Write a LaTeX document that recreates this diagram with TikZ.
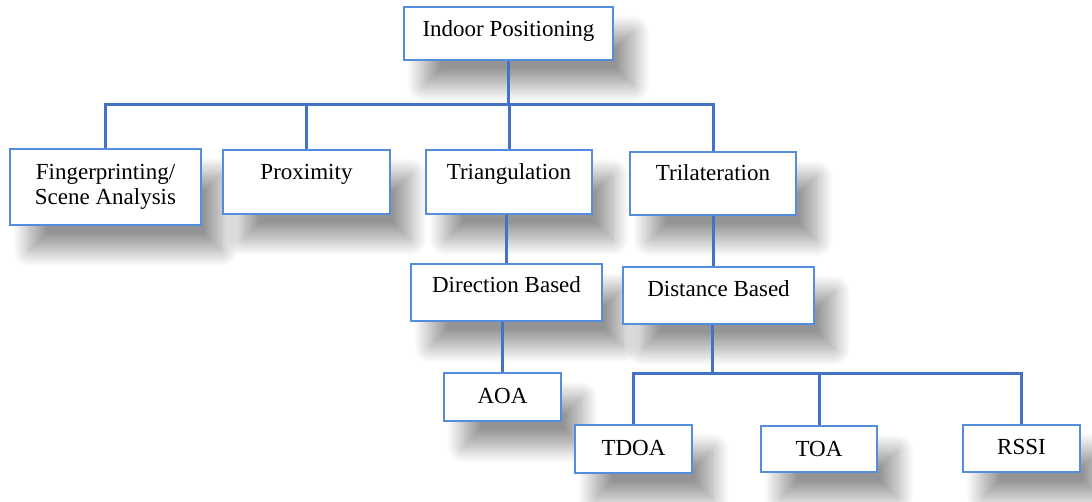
\documentclass[tikz,border=0pt]{standalone}
\usepackage{fontspec}
\setmainfont{Liberation Serif}
\usetikzlibrary{shadows.blur}
\definecolor{connblue}{RGB}{68,114,196}
\definecolor{boxblue}{RGB}{84,141,222}
\begin{document}
\begin{tikzpicture}[x=1pt,y=-1pt,
  box/.style={draw=boxblue, line width=2.2pt, fill=white, inner sep=0pt, rectangle,
    blur shadow={shadow xshift=20pt, shadow yshift=-25pt, shadow blur radius=17pt, shadow opacity=42, shadow blur steps=24}},
  lbl/.style={font=\fontsize{23}{27}\selectfont, inner sep=0pt, anchor=base, text=black},
  conn/.style={draw=connblue, line width=3pt}]
\useasboundingbox (0,0) rectangle (1092,502);
% boxes
\node[box, minimum width=209pt, minimum height=53pt] (ip) at (508.5,33.5) {};
\node[box, minimum width=191pt, minimum height=76pt] (fp) at (105.5,187) {};
\node[box, minimum width=167pt, minimum height=64pt] (px) at (306.5,182) {};
\node[box, minimum width=166pt, minimum height=64pt] (tg) at (509,182) {};
\node[box, minimum width=166pt, minimum height=63pt] (tl) at (713,183.5) {};
\node[box, minimum width=191pt, minimum height=57pt] (db) at (506.5,292.5) {};
\node[box, minimum width=191pt, minimum height=57pt] (ds) at (718.5,295.5) {};
\node[box, minimum width=117pt, minimum height=48pt] (aoa) at (502.5,397) {};
\node[box, minimum width=117pt, minimum height=48pt] (tdoa) at (633.5,449) {};
\node[box, minimum width=116pt, minimum height=46pt] (toa) at (819,449) {};
\node[box, minimum width=117pt, minimum height=47pt] (rssi) at (1021.5,448.5) {};
% labels
\node[lbl] (ip-t) at (508.5,37) {Indoor Positioning};
\node[lbl] (fp-t1) at (105.5,180) {Fingerprinting/};
\node[lbl] (fp-t2) at (105.5,205) {Scene Analysis};
\node[lbl] (px-t) at (306.5,180) {Proximity};
\node[lbl] (tg-t) at (509,180) {Triangulation};
\node[lbl] (tl-t) at (713,181) {Trilateration};
\node[lbl] (db-t) at (506.5,293) {Direction Based};
\node[lbl] (ds-t) at (718.5,297) {Distance Based};
\node[lbl] (aoa-t) at (502.5,403) {AOA};
\node[lbl] (tdoa-t) at (633.5,455) {TDOA};
\node[lbl] (toa-t) at (819,456) {TOA};
\node[lbl] (rssi-t) at (1021.5,454) {RSSI};
% connectors
\coordinate (bus1) at (508.5,105);
\coordinate (bus2) at (712,374);
\draw[conn] (ip.south) -- (bus1);
\draw[conn] (fp.north) |- (bus1);
\draw[conn] (px.north) |- (bus1);
\draw[conn] (tg.north) |- (bus1);
\draw[conn] (tl.north) |- (bus1);
\draw[conn] (tg.south -| db.north) -- (db.north);
\draw[conn] (db.south -| aoa.north) -- (aoa.north);
\draw[conn] (tl.south) -- (tl.south |- ds.north);
\draw[conn] (bus2 |- ds.south) -- (bus2);
\draw[conn] (tdoa.north) |- (bus2);
\draw[conn] (toa.north) |- (bus2);
\draw[conn] (rssi.north) |- (bus2);
\end{tikzpicture}
\end{document}
